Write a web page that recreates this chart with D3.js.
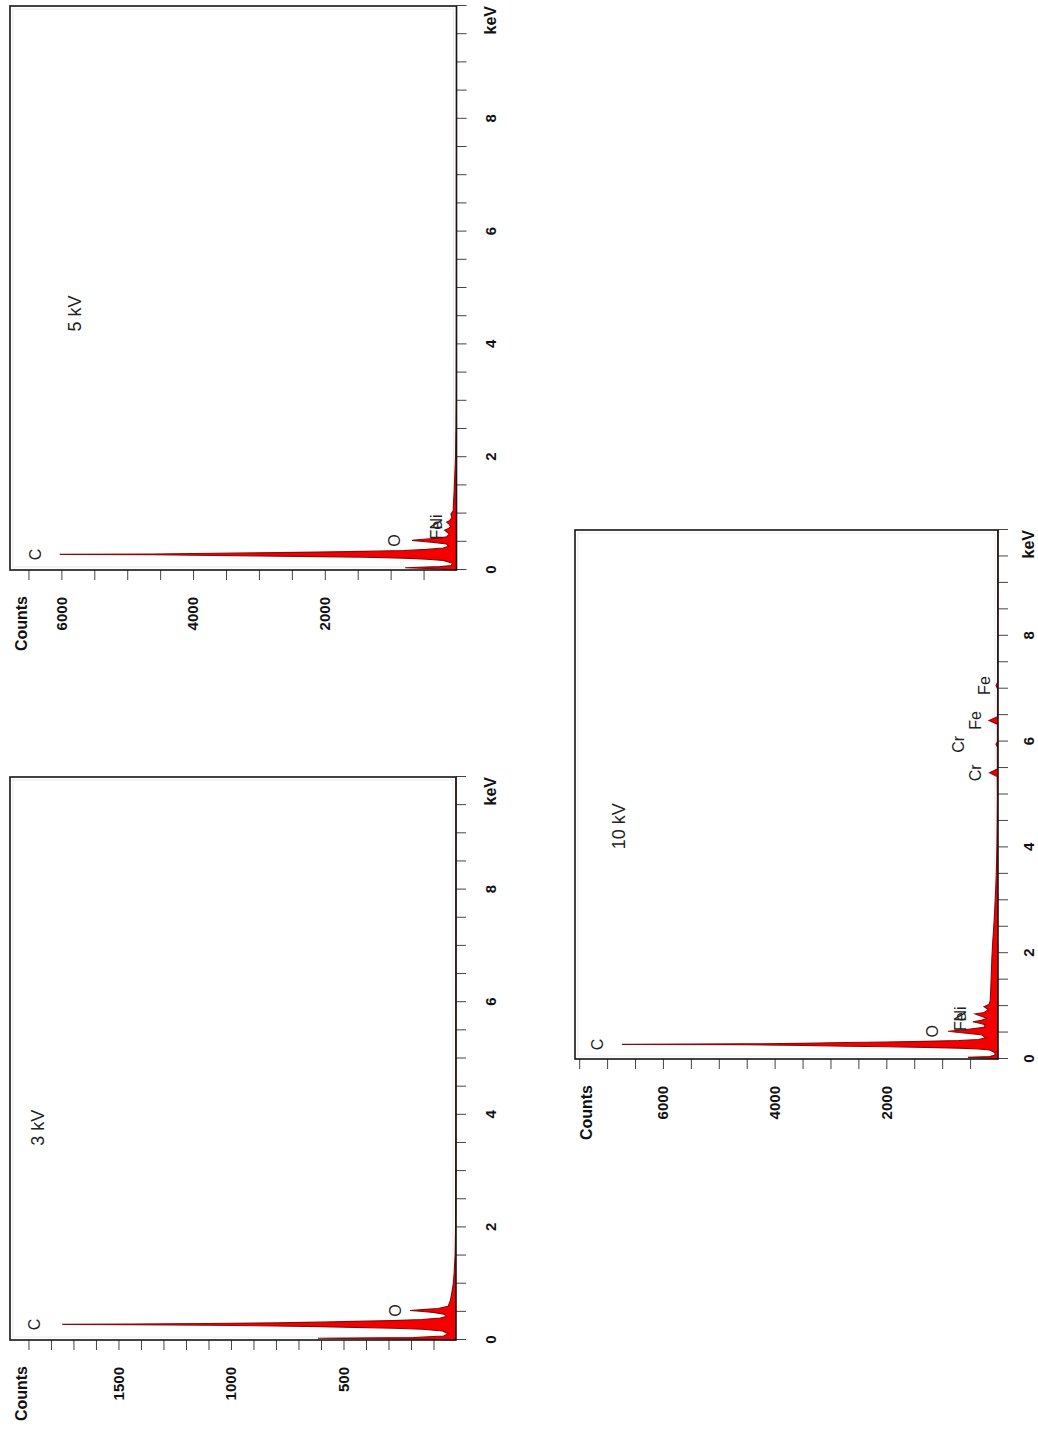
<!DOCTYPE html>
<html>
<head>
<meta charset="utf-8">
<script src="https://cdn.jsdelivr.net/npm/d3@7"></script>
<style>
  body { margin: 0; background: #fff; }
  svg { display: block; }
</style>
</head>
<body>
<svg id="fig" width="1038" height="1433"></svg>
<script>
// ---- EDS spectra recorded at three accelerating voltages ----
const titles = ["3 kV", "5 kV", "10 kV"];
const keVTickLabels = [0, 2, 4, 6, 8];
const countMax = [1982, 6780, 7575];
const countTickLabels3 = [500, 1000, 1500];
const countTickLabels5 = [2000, 4000, 6000];
const countTickLabels10 = [2000, 4000, 6000];

// 3 kV spectrum (energy in keV, counts)
const kev3 = [0, 0.015, 0.03, 0.045, 0.07, 0.11, 0.16, 0.19, 0.21, 0.225,
  0.237, 0.25, 0.262, 0.27, 0.277, 0.284, 0.292, 0.304, 0.317, 0.33,
  0.345, 0.365, 0.39, 0.42, 0.46, 0.49, 0.51, 0.525, 0.54, 0.56,
  0.6, 0.7, 0.85, 1.0, 1.2, 1.5, 2.0, 3.0, 10];
const counts3 = [0, 190, 613, 190, 55, 35, 60, 150, 280, 450,
  600, 800, 1100, 1440, 1750, 1440, 1100, 800, 600, 450,
  280, 150, 70, 40, 55, 100, 160, 204, 150, 80,
  35, 25, 18, 12, 8, 4, 2, 1, 0];

// 5 kV spectrum
const kev5 = [0, 0.02, 0.04, 0.06, 0.08, 0.12, 0.17, 0.19, 0.21, 0.225,
  0.237, 0.25, 0.262, 0.27, 0.277, 0.284, 0.292, 0.304, 0.317, 0.33,
  0.345, 0.365, 0.39, 0.42, 0.46, 0.49, 0.51, 0.525, 0.54, 0.56,
  0.59, 0.63, 0.67, 0.705, 0.73, 0.77, 0.81, 0.851, 0.88, 0.93,
  0.99, 1.05, 1.2, 1.4, 1.7, 2.0, 2.5, 3.0, 4.0, 10];
const counts5 = [0, 250, 780, 250, 80, 60, 200, 450, 800, 1400,
  2100, 3000, 4000, 4600, 6025, 4600, 4000, 3000, 2100, 1400,
  800, 450, 200, 120, 150, 350, 550, 675, 550, 300,
  150, 110, 140, 180, 130, 90, 110, 150, 100, 70,
  85, 50, 45, 35, 25, 15, 8, 4, 2, 0];

// 10 kV spectrum
const kev10 = [0, 0.015, 0.03, 0.045, 0.07, 0.12, 0.17, 0.19, 0.205, 0.22,
  0.232, 0.242, 0.258, 0.268, 0.274, 0.277, 0.28, 0.286, 0.296, 0.312,
  0.322, 0.334, 0.35, 0.37, 0.4, 0.46, 0.5, 0.525, 0.55, 0.6,
  0.65, 0.68, 0.705, 0.73, 0.77, 0.81, 0.851, 0.88, 0.93, 0.99,
  1.03, 1.1, 1.3, 1.6, 1.9, 2.2, 2.6, 3.0, 3.5, 4.0,
  4.5, 5.0, 5.34, 5.41, 5.48, 5.9, 5.95, 6.0, 6.33, 6.4,
  6.47, 7.0, 7.06, 7.12, 8.0, 9.0, 10];
const counts10 = [0, 150, 537, 150, 60, 50, 150, 350, 700, 1300,
  2000, 2700, 3500, 4500, 6540, 6735, 6540, 4500, 3500, 2700,
  2000, 1300, 700, 350, 220, 300, 700, 895, 600, 250,
  230, 350, 450, 300, 200, 300, 410, 250, 170, 250,
  160, 140, 130, 120, 110, 95, 70, 50, 30, 20,
  15, 12, 15, 150, 12, 12, 35, 11, 11, 160,
  10, 9, 35, 8, 6, 4, 3];

// element line markers: name, line energy (keV), label level (counts)
const peakNames3 = ["C", "O"];
const peakKeV3 = [0.277, 0.525];
const peakLevel3 = [1871, 271];

const peakNames5 = ["C", "O", "Fe", "Ni"];
const peakKeV5 = [0.277, 0.525, 0.705, 0.851];
const peakLevel5 = [6400, 935, 310, 310];

const peakNames10 = ["C", "O", "Fe", "Ni", "Cr", "Cr", "Fe", "Fe"];
const peakKeV10 = [0.277, 0.525, 0.705, 0.851, 5.41, 5.95, 6.40, 7.06];
const peakLevel10 = [7165, 1180, 670, 670, 410, 716, 394, 233];

const svg = d3.select("#fig");
const FONT = "'Liberation Sans', Arial, sans-serif";

const panels = [
  { title: titles[0], e: kev3, c: counts3, max: countMax[0], labels: countTickLabels3, step: 100,
    names: peakNames3, lines: peakKeV3, levels: peakLevel3, gap: 34,
    box: { left: 10, right: 456, top: 777, bottom: 1340 }, titleAt: [3.77, 1858] },
  { title: titles[1], e: kev5, c: counts5, max: countMax[1], labels: countTickLabels5, step: 500,
    names: peakNames5, lines: peakKeV5, levels: peakLevel5, gap: 34,
    box: { left: 10, right: 456.5, top: 6, bottom: 570 }, titleAt: [4.55, 5793] },
  { title: titles[2], e: kev10, c: counts10, max: countMax[2], labels: countTickLabels10, step: 500,
    names: peakNames10, lines: peakKeV10, levels: peakLevel10, gap: 30,
    box: { left: 575, right: 998, top: 530, bottom: 1059 }, titleAt: [4.40, 6787] }
];

panels.forEach(drawPanel);

function drawPanel(p) {
  // The panel is laid out as an ordinary spectrum (energy across, counts up)
  // and then turned a quarter turn counter-clockwise as a whole.
  const W = p.box.bottom - p.box.top;   // energy axis length
  const H = p.box.right - p.box.left;   // counts axis length
  const g = svg.append("g")
    .attr("transform", `translate(${p.box.left},${p.box.bottom}) rotate(-90)`);

  const x = d3.scaleLinear().domain([0, 10]).range([0, W]);
  const y = d3.scaleLinear().domain([0, p.max]).range([H, 0]);

  g.append("rect").attr("width", W).attr("height", H).attr("fill", "#fff");
  g.append("rect").attr("x", 3).attr("y", 3).attr("width", W - 6).attr("height", H - 6)
    .attr("fill", "none").attr("stroke", "#e6e6e6").attr("stroke-width", 0.8);

  const pts = p.e.map((e, i) => [e, p.c[i]]);
  g.append("path").datum(pts)
    .attr("d", d3.area().x(d => x(d[0])).y0(H).y1(d => y(d[1])))
    .attr("fill", "#f50000");
  g.append("path").datum(pts)
    .attr("d", d3.line().x(d => x(d[0])).y(d => y(d[1])))
    .attr("fill", "none").attr("stroke", "#8a0808").attr("stroke-width", 1.1);

  // energy axis
  const tickLen = 10;
  const xAxis = d3.axisBottom(x).ticks(20).tickSize(tickLen).tickPadding(p.gap - tickLen - 5)
    .tickFormat(d => keVTickLabels.includes(d) ? String(d) : "");
  const gx = g.append("g").attr("transform", `translate(0,${H})`).call(xAxis);

  // counts axis
  const yTicks = d3.range(p.step, p.max, p.step);
  const yAxis = d3.axisLeft(y).tickValues(yTicks).tickSize(tickLen).tickPadding(17)
    .tickFormat(d => p.labels.includes(d) ? String(d) : "");
  const gy = g.append("g").call(yAxis);

  [gx, gy].forEach(a => {
    a.select(".domain").remove();
    a.selectAll(".tick line").attr("stroke", "#444").attr("stroke-width", 1);
    a.selectAll(".tick text").attr("fill", "#111").attr("font-family", FONT)
      .attr("font-size", 15).attr("font-weight", "bold");
  });

  g.append("rect").attr("width", W).attr("height", H)
    .attr("fill", "none").attr("stroke", "#151515").attr("stroke-width", 1.6);

  // axis titles
  g.append("text").attr("x", W).attr("y", H + p.gap)
    .attr("text-anchor", "end").attr("dominant-baseline", "central")
    .attr("font-family", FONT).attr("font-size", 16).attr("font-weight", "bold")
    .attr("fill", "#111").text("keV");
  g.append("text").attr("x", -26).attr("y", 11)
    .attr("text-anchor", "end").attr("dominant-baseline", "central")
    .attr("font-family", FONT).attr("font-size", 16).attr("font-weight", "bold")
    .attr("fill", "#111").text("Counts");

  // element labels
  p.names.forEach((n, i) => {
    g.append("text").attr("x", x(p.lines[i])).attr("y", y(p.levels[i]))
      .attr("text-anchor", "middle").attr("dominant-baseline", "central")
      .attr("font-family", FONT).attr("font-size", 16).attr("fill", "#222")
      .text(n);
  });

  // voltage caption
  g.append("text").attr("x", x(p.titleAt[0])).attr("y", y(p.titleAt[1]))
    .attr("text-anchor", "middle").attr("dominant-baseline", "central")
    .attr("font-family", FONT).attr("font-size", 18).attr("fill", "#222")
    .text(p.title);
}
</script>
</body>
</html>
